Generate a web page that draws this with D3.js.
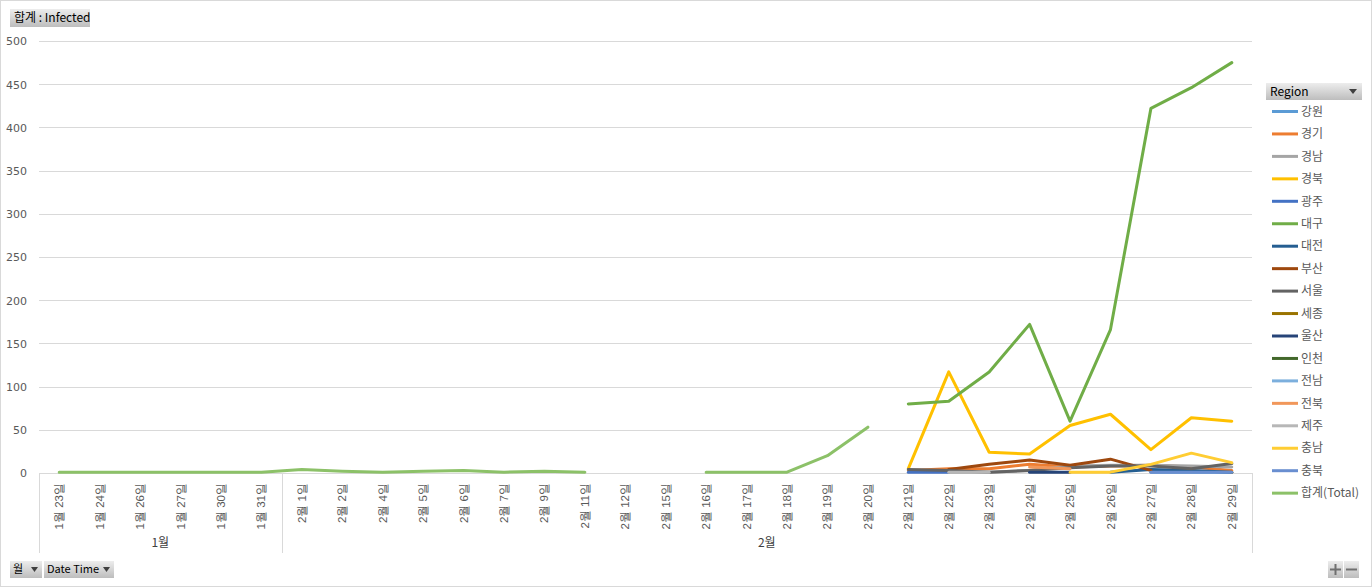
<!DOCTYPE html>
<html><head><meta charset="utf-8">
<script src="https://cdn.jsdelivr.net/npm/d3@7"></script>
<style>
html,body{margin:0;padding:0;background:#fff;}
svg{display:block;font-family:"Noto Sans CJK KR","Noto Sans",sans-serif;}
</style></head>
<body>
<svg id="c" width="1372" height="587"></svg>
<script>
// ---- data ----
const categories = ["1월 23일","1월 24일","1월 26일","1월 27일","1월 30일","1월 31일",
 "2월 1일","2월 2일","2월 4일","2월 5일","2월 6일","2월 7일","2월 9일","2월 11일","2월 12일","2월 15일",
 "2월 16일","2월 17일","2월 18일","2월 19일","2월 20일","2월 21일","2월 22일","2월 23일","2월 24일",
 "2월 25일","2월 26일","2월 27일","2월 28일","2월 29일"];
const monthLabels = ["1월","2월"];
const yTicks = [0,50,100,150,200,250,300,350,400,450,500];
const regionNames = ["강원","경기","경남","경북","광주","대구","대전","부산","서울","세종","울산","인천","전남","전북","제주","충남","충북","합계(Total)"];
const regionColors = ["#5B9BD5","#ED7D31","#A5A5A5","#FFC000","#4472C4","#70AD47","#255E91","#9E480E","#636363","#997300","#264478","#43682B","#7CAFDD","#F1975A","#B7B7B7","#FFCD33","#698ED0","#8CC168"];
// values for 2월 21일 .. 2월 29일 (regions)
const N = null;
const gangwon  = [N, N, N, N, N, N, 1, 1, 1];
const gyeonggi = [3, 5, 5, 10, 7, 8, 9, 7, 3];
const gyeongnam= [N, 1, 1, 3, 8, 9, 9, 8, 7];
const gyeongbuk= [5, 117, 24, 22, 55, 68, 27, 64, 60];
const gwangju  = [1, 1, N, N, N, N, N, N, N];
const daegu    = [80, 83, 117, 172, 60, 166, 422, 446, 475];
const daejeon  = [N, N, N, N, N, 1, 4, 3, 1];
const busan    = [N, 4, 10, 15, 9, 16, 3, N, N];
const seoul    = [4, 3, 1, 3, 6, 8, 8, 5, 11];
const sejong   = [N, N, N, N, N, N, N, N, 1];
const ulsan    = [N, N, N, 1, 1, N, N, N, N];
const incheon  = [N, N, N, N, N, N, N, N, N];
const jeonnam  = [N, N, N, N, N, N, N, N, N];
const jeonbuk  = [N, N, N, 7, 5, N, N, N, N];
const jeju     = [N, 1, 1, N, N, N, N, N, N];
const chungnam = [N, N, N, N, 1, 1, 10, 23, 12];
const chungbuk = [N, N, N, N, N, N, 1, 1, 1];
// total series for 1월 23일 .. 2월 20일
const total    = [1,1,1,1,1,1, 4,2,1,2,3,1,2,1, N,N, 1,1,1,20,53];

(function(){
// ---- build series ----
const lateStart = categories.indexOf("2월 21일");
const regionData = [gangwon,gyeonggi,gyeongnam,gyeongbuk,gwangju,daegu,daejeon,busan,seoul,sejong,ulsan,incheon,jeonnam,jeonbuk,jeju,chungnam,chungbuk];
const series = regionNames.map((name,i)=>{
  let vals = categories.map(()=>null);
  if (i < regionData.length) regionData[i].forEach((v,j)=>{vals[lateStart+j]=v;});
  else total.forEach((v,j)=>{vals[j]=v;});
  return {name, color: regionColors[i], values: vals};
});

const svg = d3.select("#c");
const defs = svg.append("defs");
const grad = defs.append("linearGradient").attr("id","btn").attr("x1",0).attr("y1",0).attr("x2",0).attr("y2",1);
grad.append("stop").attr("offset","0%").attr("stop-color","#ededed");
grad.append("stop").attr("offset","100%").attr("stop-color","#bdbdbd");

// outer border
svg.append("rect").attr("x",0.5).attr("y",0.5).attr("width",1371).attr("height",586)
  .attr("fill","#fff").attr("stroke","#d9d9d9");

const pL = 39, pR = 1252, pT = 41, pB = 473;
const x = d3.scaleBand().domain(categories).range([pL,pR]).padding(0);
const cx = c => x(c) + x.bandwidth()/2;
const y = d3.scaleLinear().domain([0,500]).range([pB,pT]);

// gridlines
svg.append("g").selectAll("line").data(yTicks).join("line")
  .attr("x1",pL).attr("x2",pR)
  .attr("y1",d=>Math.round(y(d))+0.5).attr("y2",d=>Math.round(y(d))+0.5)
  .attr("stroke","#d9d9d9").attr("stroke-width",1);

// y axis labels
const yAxis = d3.axisLeft(y).tickValues(yTicks).tickSize(0).tickPadding(0);
const yg = svg.append("g").attr("transform",`translate(${pL-12},0)`).call(yAxis);
yg.select(".domain").remove();
yg.selectAll("text").attr("font-size",11).attr("fill","#595959")
  .attr("font-family","'DejaVu Sans','Noto Sans',sans-serif").attr("dy","0.35em");

// category axis box lines
const monthCounts = monthLabels.map(m=>categories.filter(c=>c.startsWith(m)).length);
let acc = 0;
const boundaries = [pL];
monthCounts.forEach(n=>{acc+=n; boundaries.push(x(categories[acc-1])+x.bandwidth());});
svg.append("g").selectAll("line").data(boundaries).join("line")
  .attr("x1",d=>Math.round(d)+0.5).attr("x2",d=>Math.round(d)+0.5)
  .attr("y1",pB).attr("y2",553).attr("stroke","#d9d9d9");

// x axis labels (rotated)
const xAxis = d3.axisBottom(x).tickSize(0).tickPadding(0);
const xg = svg.append("g").attr("transform",`translate(0,${pB})`).call(xAxis);
xg.select(".domain").attr("stroke","#d9d9d9");
xg.selectAll("text").attr("font-size",11.5).attr("fill","#595959")
  .attr("text-anchor","end").attr("dy","0.35em")
  .attr("transform","translate(0,10) rotate(-90)").attr("y",0).attr("x",0);

// month labels
acc = 0;
monthLabels.forEach((m,i)=>{
  const first = categories[acc], last = categories[acc+monthCounts[i]-1];
  acc += monthCounts[i];
  svg.append("text").attr("x",(x(first)+x(last)+x.bandwidth())/2).attr("y",543)
    .attr("text-anchor","middle").attr("dy","0.35em").attr("font-size",12).attr("fill","#404040").text(m);
});

// lines
const line = d3.line().defined(d=>d.v!=null).x(d=>cx(d.c)).y(d=>y(d.v));
svg.append("g").selectAll("path").data(series).join("path")
  .attr("d",s=>line(s.values.map((v,i)=>({c:categories[i],v}))))
  .attr("fill","none").attr("stroke",s=>s.color).attr("stroke-width",3)
  .attr("stroke-linejoin","round").attr("stroke-linecap","round");

// legend
const lg = svg.append("g");
lg.append("rect").attr("x",1266).attr("y",83).attr("width",96).attr("height",17).attr("fill","url(#btn)");
lg.append("text").attr("x",1270).attr("y",91.5).attr("dy","0.35em").attr("font-size",12).attr("fill","#000").text("Region");
lg.append("path").attr("d","M1349,89 L1357,89 L1353,94 Z").attr("fill","#404040");
const items = lg.selectAll("g.item").data(series).join("g").attr("class","item")
  .attr("transform",(d,i)=>`translate(0,${111.5+i*22.45})`);
items.append("line").attr("x1",1272).attr("x2",1298).attr("y1",0).attr("y2",0)
  .attr("stroke",d=>d.color).attr("stroke-width",3);
items.append("text").attr("x",1301).attr("y",0).attr("dy","0.35em").attr("font-size",12)
  .attr("fill","#595959").text(d=>d.name);

// top-left field button
svg.append("rect").attr("x",10).attr("y",9).attr("width",80).attr("height",18).attr("fill","url(#btn)");
svg.append("text").attr("x",14).attr("y",18).attr("dy","0.35em").attr("font-size",12).attr("fill","#000").text("합계 : Infected");

// bottom-left field buttons
function fieldBtn(x0,w,label){
  svg.append("rect").attr("x",x0).attr("y",561).attr("width",w).attr("height",17).attr("fill","url(#btn)");
  svg.append("text").attr("x",x0+3).attr("y",569.5).attr("dy","0.35em").attr("font-size",11).attr("fill","#000").text(label);
  svg.append("path").attr("d",`M${x0+w-11},567 L${x0+w-4},567 L${x0+w-7.5},572 Z`).attr("fill","#404040");
}
fieldBtn(10,32,"월");
fieldBtn(44,70,"Date Time");

// +/- buttons
svg.append("rect").attr("x",1328).attr("y",561).attr("width",15).attr("height",17).attr("fill","url(#btn)");
svg.append("rect").attr("x",1344).attr("y",561).attr("width",15).attr("height",17).attr("fill","url(#btn)");
svg.append("path").attr("d","M1330,569.5 H1341 M1335.5,564 V575").attr("stroke","#707070").attr("stroke-width",2);
svg.append("path").attr("d","M1346,569.5 H1357").attr("stroke","#707070").attr("stroke-width",2);
})();
</script>
</body></html>
